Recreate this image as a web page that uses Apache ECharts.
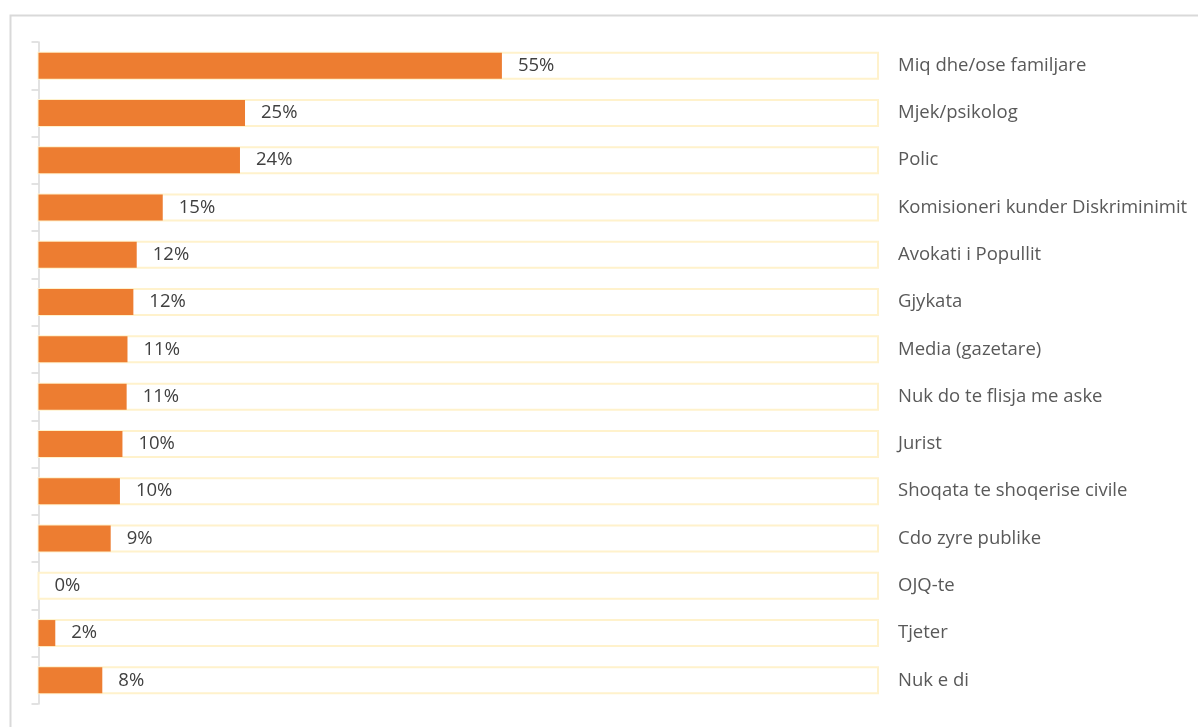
<!DOCTYPE html>
<html>
<head>
<meta charset="utf-8">
<script src="https://cdn.jsdelivr.net/npm/echarts@6/dist/echarts.min.js"></script>
<style>
html,body{margin:0;padding:0;background:#fff;}
#chart{width:1198px;height:727px;}
</style>
</head>
<body>
<div id="chart"></div>
<script>
const categories = ["Miq dhe/ose familjare","Mjek/psikolog","Polic","Komisioneri kunder Diskriminimit","Avokati i Popullit","Gjykata","Media (gazetare)","Nuk do te flisja me aske","Jurist","Shoqata te shoqerise civile","Cdo zyre publike","OJQ-te","Tjeter","Nuk e di"];
const values = [55.2, 24.6, 24.0, 14.8, 11.7, 11.3, 10.6, 10.5, 10.0, 9.7, 8.6, 0, 2.0, 7.6];
const valueLabels = ["55%","25%","24%","15%","12%","12%","11%","11%","10%","10%","9%","0%","2%","8%"];

const chart = echarts.init(document.getElementById('chart'));
const font = '"Open Sans", "Noto Sans", sans-serif';
chart.setOption({
  animation: false,
  graphic: [{
    type: 'rect', left: 8, top: 13, z: -10,
    shape: {width: 1189, height: 760},
    style: {fill: 'none', stroke: '#d9d9d9', lineWidth: 2}
  }],
  grid: {left: 38.5, right: 320, top: 42, bottom: 23},
  xAxis: {type: 'value', min: 0, max: 100, show: false},
  yAxis: [{
    type: 'category', data: categories, inverse: true, position: 'left',
    axisLine: {show: true, lineStyle: {color: '#d9d9d9', width: 1.5}},
    axisTick: {show: true, length: 7, lineStyle: {color: '#d9d9d9', width: 1.5}},
    axisLabel: {show: false}
  }, {
    type: 'category', data: categories, inverse: true, position: 'right',
    axisLine: {show: false}, axisTick: {show: false},
    axisLabel: {show: true, align: 'left', margin: 20, color: '#595959', fontSize: 18.5, fontFamily: font}
  }],
  series: [{
    type: 'bar', data: values, yAxisIndex: 0, barWidth: 26,
    itemStyle: {color: '#ED7D31'},
    showBackground: true,
    backgroundStyle: {color: '#ffffff', borderColor: '#FFF2CC', borderWidth: 2},
    label: {
      show: true, position: 'right', distance: 16,
      formatter: p => valueLabels[p.dataIndex],
      color: '#404040', fontSize: 18.5, fontFamily: font
    }
  }]
});
</script>
</body>
</html>
